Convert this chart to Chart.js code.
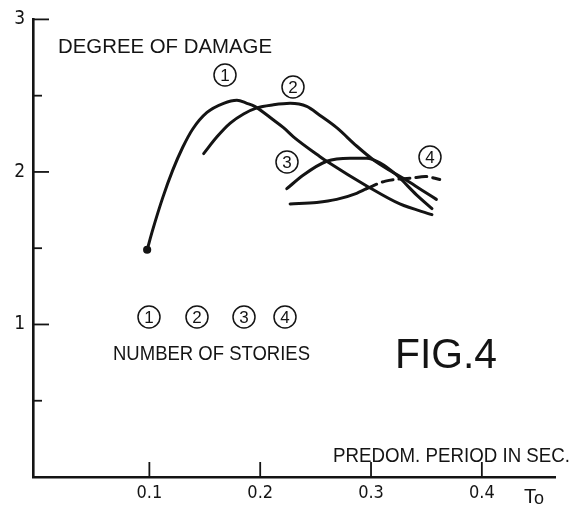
<!DOCTYPE html>
<html>
<head>
<meta charset="utf-8">
<script src="https://cdn.jsdelivr.net/npm/chart.js@4/dist/chart.umd.min.js"></script>
<style>
  html, body { margin: 0; padding: 0; background: #fff; }
  #wrap { width: 582px; height: 510px; }
</style>
</head>
<body>
<div id="wrap"><canvas id="fig4" width="582" height="510"></canvas></div>
<script>
// tick labels
var periodTicks = [0.1, 0.2, 0.3, 0.4];
var damageTicks = [1, 2, 3];
var damageMinorTicks = [0.5, 1.5, 2.5];
var storyLabels = ['1', '2', '3', '4'];

// curves (x = predominant period in sec, y = degree of damage)
var period1 = [0.098, 0.103, 0.112, 0.121, 0.130, 0.139, 0.152, 0.167, 0.179, 0.188, 0.195, 0.212, 0.221, 0.230, 0.254, 0.260, 0.298, 0.326, 0.355];
var damage1 = [1.49, 1.62, 1.83, 2.01, 2.16, 2.28, 2.39, 2.45, 2.47, 2.45, 2.43, 2.34, 2.29, 2.23, 2.10, 2.07, 1.90, 1.79, 1.72];

var period2 = [0.149, 0.161, 0.173, 0.185, 0.197, 0.212, 0.227, 0.242, 0.254, 0.269, 0.287, 0.302, 0.317, 0.331, 0.346, 0.359];
var damage2 = [2.12, 2.23, 2.32, 2.38, 2.42, 2.44, 2.45, 2.43, 2.37, 2.29, 2.17, 2.08, 2.01, 1.95, 1.88, 1.82];

var period3 = [0.224, 0.239, 0.260, 0.281, 0.296, 0.308, 0.323, 0.341, 0.355];
var damage3 = [1.89, 1.98, 2.07, 2.09, 2.09, 2.06, 1.98, 1.85, 1.76];

var period4 = [0.227, 0.251, 0.269, 0.287, 0.296, 0.313, 0.337, 0.349, 0.362];
var damage4 = [1.79, 1.80, 1.82, 1.86, 1.89, 1.94, 1.96, 1.97, 1.95];

function pts(xs, ys) {
  return xs.map(function (x, i) { return { x: x, y: ys[i] }; });
}

var INK = '#141414';
var FONT = "'Liberation Sans', 'DejaVu Sans', sans-serif";
var NARROW = "'Liberation Sans Narrow', 'DejaVu Sans Condensed', 'Liberation Sans', sans-serif";

// text stretched to the width it has on the drawing
function fitText(ctx, str, left, right, baseline, size) {
  ctx.font = size + 'px ' + FONT;
  var w = ctx.measureText(str).width;
  ctx.save();
  ctx.translate(left, baseline);
  ctx.scale((right - left) / w, 1);
  ctx.textAlign = 'left';
  ctx.textBaseline = 'alphabetic';
  ctx.fillText(str, 0, 0);
  ctx.restore();
}

function circled(ctx, str, cx, cy) {
  ctx.beginPath();
  ctx.arc(cx, cy, 11, 0, Math.PI * 2);
  ctx.lineWidth = 1.5;
  ctx.stroke();
  ctx.font = '17px ' + FONT;
  ctx.textAlign = 'center';
  ctx.textBaseline = 'alphabetic';
  ctx.fillText(str, cx, cy + 6);
}

var figurePlugin = {
  id: 'figure',
  afterDraw: function (chart) {
    var ctx = chart.ctx;
    var xs = chart.scales.x, ys = chart.scales.y;
    var left = chart.chartArea.left, bottom = chart.chartArea.bottom;
    ctx.save();
    ctx.strokeStyle = INK;
    ctx.fillStyle = INK;
    ctx.lineCap = 'butt';

    // inward tick marks
    ctx.lineWidth = 1.8;
    periodTicks.forEach(function (v) {
      var px = xs.getPixelForValue(v);
      ctx.beginPath(); ctx.moveTo(px, bottom); ctx.lineTo(px, bottom - 15); ctx.stroke();
    });
    damageTicks.forEach(function (v) {
      var py = ys.getPixelForValue(v);
      ctx.beginPath(); ctx.moveTo(left, py); ctx.lineTo(left + 16, py); ctx.stroke();
    });
    damageMinorTicks.forEach(function (v) {
      var py = ys.getPixelForValue(v);
      ctx.beginPath(); ctx.moveTo(left, py); ctx.lineTo(left + 9, py); ctx.stroke();
    });

    // lettering
    fitText(ctx, 'DEGREE OF DAMAGE', 58, 272, 53, 21);
    fitText(ctx, 'NUMBER OF STORIES', 113, 310, 360, 21);
    fitText(ctx, 'FIG.4', 395, 497, 368, 42);
    fitText(ctx, 'PREDOM. PERIOD IN SEC.', 333, 570, 462, 19.5);
    ctx.font = '20px ' + FONT;
    ctx.textAlign = 'left';
    ctx.textBaseline = 'alphabetic';
    ctx.fillText('T', 524, 503);
    ctx.font = '18px ' + FONT;
    ctx.fillText('o', 534, 504);

    // curve numbers
    circled(ctx, storyLabels[0], 225, 75);
    circled(ctx, storyLabels[1], 293, 87);
    circled(ctx, storyLabels[2], 287, 162);
    circled(ctx, storyLabels[3], 430, 157);
    // key
    circled(ctx, storyLabels[0], 149, 317);
    circled(ctx, storyLabels[1], 197, 317);
    circled(ctx, storyLabels[2], 244, 317);
    circled(ctx, storyLabels[3], 285, 317);
    ctx.restore();
  }
};

function curve(label, data, extra) {
  var ds = {
    label: label,
    data: data,
    borderColor: INK,
    backgroundColor: INK,
    borderWidth: 3,
    pointRadius: 0,
    fill: false,
    cubicInterpolationMode: 'monotone',
    borderCapStyle: 'round'
  };
  for (var k in extra) ds[k] = extra[k];
  return ds;
}

var dashFrom = 4;

new Chart(document.getElementById('fig4'), {
  type: 'line',
  data: {
    datasets: [
      curve(storyLabels[0], pts(period1, damage1), {
        pointRadius: function (c) { return c.dataIndex === 0 ? 2.6 : 0; }
      }),
      curve(storyLabels[1], pts(period2, damage2)),
      curve(storyLabels[2], pts(period3, damage3)),
      curve(storyLabels[3], pts(period4, damage4), {
        segment: {
          borderDash: function (c) { return c.p0DataIndex >= dashFrom ? [11, 6] : undefined; }
        }
      })
    ]
  },
  options: {
    responsive: false,
    animation: false,
    layout: { padding: { left: 0, right: 27, top: 17, bottom: 0 } },
    plugins: {
      legend: { display: false },
      tooltip: { enabled: false }
    },
    scales: {
      x: {
        type: 'linear',
        min: -0.005,
        max: 0.466,
        afterFit: function (s) { s.height = 33; },
        afterBuildTicks: function (s) { s.ticks = periodTicks.map(function (v) { return { value: v }; }); },
        grid: { display: false, drawTicks: false },
        border: { display: true, color: INK, width: 2.6 },
        ticks: {
          color: INK,
          font: { family: NARROW, size: 18 },
          padding: 6,
          maxRotation: 0,
          autoSkip: false,
          callback: function (v) { return v.toFixed(1); }
        }
      },
      y: {
        min: 0,
        max: 3,
        afterFit: function (s) { s.width = 33; },
        afterBuildTicks: function (s) { s.ticks = damageTicks.map(function (v) { return { value: v }; }); },
        grid: { display: false, drawTicks: false },
        border: { display: true, color: INK, width: 2.6 },
        ticks: {
          color: INK,
          font: { family: NARROW, size: 19 },
          padding: 8,
          callback: function (v) { return String(v); }
        }
      }
    }
  },
  plugins: [figurePlugin]
});
</script>
</body>
</html>
